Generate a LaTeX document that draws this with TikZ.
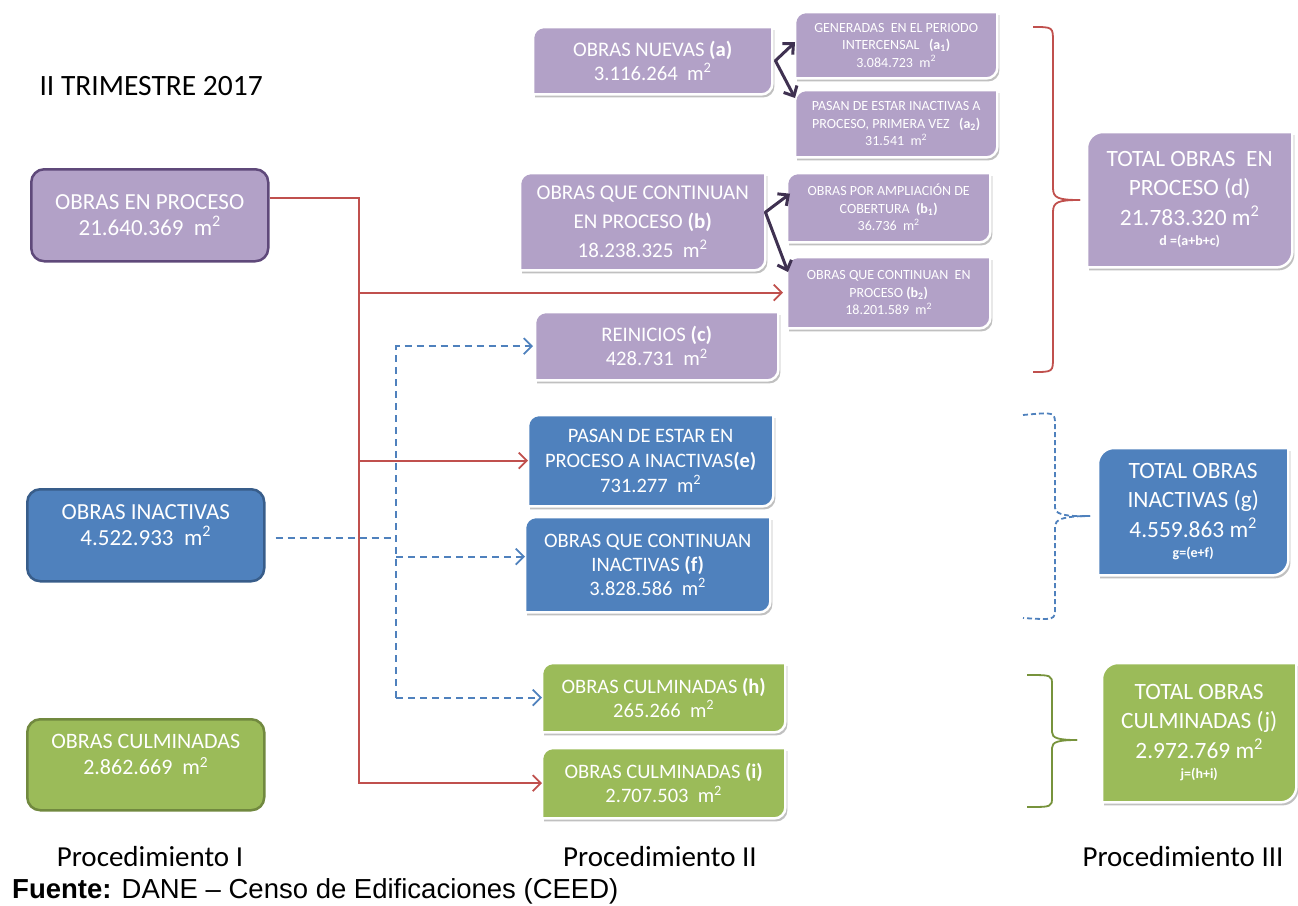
\documentclass[tikz,border=0pt]{standalone}
\usepackage{fontspec}
\setmainfont{Carlito}
\newfontfamily\arialf{Liberation Sans}
\usetikzlibrary{arrows.meta,calc}
\pgfdeclarelayer{bg}
\pgfsetlayers{bg,main}
\definecolor{purf}{HTML}{B2A1C7}
\definecolor{purd}{HTML}{5F497A}
\definecolor{pura}{HTML}{3F3151}
\definecolor{bluf}{HTML}{4F81BD}
\definecolor{blud}{HTML}{385D8A}
\definecolor{grnf}{HTML}{9BBB59}
\definecolor{grnd}{HTML}{71893F}
\definecolor{grnb}{HTML}{77933C}
\definecolor{redl}{HTML}{C0504D}
\newcommand\dpath[4]{([xshift=#3,yshift=#4]#1.south west) -- ([xshift=#3,yshift=#4-#2]#1.north west) arc[start angle=180,end angle=90,radius=#2] -- ([xshift=#3,yshift=#4]#1.north east) -- ([xshift=#3,yshift=#4+#2]#1.south east) arc[start angle=0,end angle=-90,radius=#2] -- cycle}
\newcommand\dbox[3]{\begin{pgfonlayer}{bg}\fill[black!55,opacity=.45] \dpath{#1}{#3}{2pt}{-3pt};\draw[white,line width=2.5pt,fill=#2] \dpath{#1}{#3}{0pt}{0pt};\end{pgfonlayer}}
\newcommand\msq{m\textsuperscript{2}}
\newcommand\fs[2]{\fontsize{#1}{#2}\selectfont}
\begin{document}
\begin{tikzpicture}[x=1pt,y=-1pt,
  lbox/.style={anchor=north west,rounded corners=13pt,line width=2.5pt,text=white,align=center,inner sep=0pt,font=\fs{23}{26}},
  pbox/.style={anchor=north west,text=white,align=center,inner sep=0pt,font=\fs{20.7}{24}},
  sbox/.style={anchor=north west,text=white,align=center,inner sep=0pt,font=\fs{14}{17.5}},
  tbox/.style={anchor=north west,text=white,align=center,inner sep=0pt,font=\fs{23.4}{29.5}},
  redc/.style={draw=redl,line width=1.8pt},
  bdash/.style={draw=bluf,line width=1.8pt,dash pattern=on 7pt off 5pt},
  harr/.style={-{Straight Barb[length=8pt,width=16pt]}},
  parr/.style={draw=pura,line width=3pt,line cap=round,-{Straight Barb[length=8pt,width=15pt]}},
  plabel/.style={font=\fs{29}{32}}]
\useasboundingbox (0,0) rectangle (1298,905);

% title
\node[anchor=west,font=\fs{29.5}{32}] (title) at (36,86) {II TRIMESTRE 2017};

% Procedimiento I
\node[lbox,fill=purf,draw=purd,minimum width=237pt,minimum height=92pt] (pro) at (30,168) {OBRAS EN PROCESO\\21.640.369~~\msq};
\node[lbox,fill=bluf,draw=blud,minimum width=237pt,minimum height=92pt] (ina) at (26,488) {OBRAS INACTIVAS\\4.522.933~~\msq\\[-6pt]};
\node[lbox,fill=grnf,draw=grnd,minimum width=237pt,minimum height=91pt,font=\fs{22}{26}] (cul) at (26,718) {OBRAS CULMINADAS\\2.862.669~~\msq\\[-6pt]};

% Procedimiento II
\node[pbox,minimum width=239pt,minimum height=67pt] (a) at (533,27) {OBRAS NUEVAS \textbf{(a)}\\3.116.264~~\msq};
\node[sbox,minimum width=202pt,minimum height=66pt] (a1) at (795,12) {GENERADAS~~EN EL PERIODO\\INTERCENSAL~~~\textbf{(a\textsubscript{1})}\\3.084.723~~\msq};
\node[sbox,minimum width=202pt,minimum height=67pt] (a2) at (795,90) {PASAN DE ESTAR INACTIVAS A\\PROCESO, PRIMERA VEZ~~~\textbf{(a\textsubscript{2})}\\31.541~~\msq};
\node[pbox,minimum width=245pt,minimum height=97pt,font=\fs{21}{29}] (b) at (520,173) {OBRAS QUE CONTINUAN\\EN PROCESO \textbf{(b)}\\18.238.325~~\msq};
\node[sbox,minimum width=203pt,minimum height=69pt] (b1) at (787,173) {OBRAS POR AMPLIACIÓN DE\\COBERTURA~~\textbf{(b\textsubscript{1})}\\36.736~~\msq};
\node[sbox,minimum width=203pt,minimum height=71pt] (b2) at (787,257) {OBRAS QUE CONTINUAN~~EN\\PROCESO \textbf{(b\textsubscript{2})}\\18.201.589~~\msq};
\node[pbox,minimum width=243pt,minimum height=68pt] (c) at (535,312) {REINICIOS \textbf{(c)}\\428.731~~\msq};
\node[pbox,minimum width=245pt,minimum height=91pt,font=\fs{20.5}{25}] (e) at (528,415) {PASAN DE ESTAR EN\\PROCESO A INACTIVAS\textbf{(e)}\\731.277~~\msq};
\node[pbox,minimum width=245pt,minimum height=95pt,font=\fs{20.5}{24}] (f) at (525,517) {OBRAS QUE CONTINUAN\\INACTIVAS \textbf{(f)}\\3.828.586~~\msq};
\node[pbox,minimum width=243pt,minimum height=69pt,font=\fs{20.5}{24}] (h) at (542,663) {OBRAS CULMINADAS \textbf{(h)}\\265.266~~\msq};
\node[pbox,minimum width=243pt,minimum height=70pt,font=\fs{20.5}{24}] (i) at (542,748) {OBRAS CULMINADAS \textbf{(i)}\\2.707.503~~\msq};

% Procedimiento III
\node[tbox,minimum width=205pt,minimum height=135pt] (d) at (1087,132) {TOTAL OBRAS~~EN\\PROCESO (d)\\21.783.320 \msq\\[-9pt]{\bfseries\fs{14}{16}d =(a+b+c)}};
\node[tbox,minimum width=190pt,minimum height=127pt] (g) at (1098,448) {TOTAL OBRAS\\INACTIVAS (g)\\4.559.863 \msq\\[-9pt]{\bfseries\fs{14}{16}g=(e+f)}};
\node[tbox,minimum width=194pt,minimum height=139pt] (j) at (1102,663) {TOTAL OBRAS\\CULMINADAS (j)\\2.972.769 \msq\\[-9pt]{\bfseries\fs{14}{16}j=(h+i)}};

\dbox{a}{purf}{11pt}
\dbox{a1}{purf}{11pt}
\dbox{a2}{purf}{11pt}
\dbox{b}{purf}{11pt}
\dbox{b1}{purf}{11pt}
\dbox{b2}{purf}{11pt}
\dbox{c}{purf}{11pt}
\dbox{e}{bluf}{11pt}
\dbox{f}{bluf}{11pt}
\dbox{h}{grnf}{11pt}
\dbox{i}{grnf}{11pt}
\dbox{d}{purf}{16pt}
\dbox{g}{bluf}{16pt}
\dbox{j}{grnf}{16pt}

% red connectors
\coordinate (rt) at (359,197);
\draw[redc,harr] ([yshift=17pt]pro.east) -| (rt |- i.west) -- (i.west);
\draw[redc,harr] (rt |- b2.west) -- ([xshift=-4pt]b2.west);
\draw[redc,harr] (rt |- e.west) -- (e.west);

% blue dashed connectors
\coordinate (bt) at (396,537);
\draw[bdash] ([xshift=10pt,yshift=-3pt]ina.east) -| (bt);
\draw[bdash,harr] (bt |- h.west) -- (bt |- c.west) -- ([xshift=-2pt]c.west);
\draw[bdash,harr] ([yshift=8pt]f.west -| bt) -- ([yshift=8pt]f.west);
\draw[bdash,harr] (bt |- h.west) -- (h.west);

% purple arrows
\draw[parr] ([xshift=3pt]a.east) -- ([yshift=3pt]a1.west);
\draw[parr] ([xshift=3pt]a.east) -- ([yshift=-8pt]a2.north west);
\draw[parr] ([yshift=9.5pt]b.east) -- ([xshift=3pt,yshift=14pt]b1.west);
\draw[parr] ([yshift=9.5pt]b.east) -- ([xshift=1pt,yshift=-15pt]b2.north west);

% braces
\draw[redc] (1033,27) .. controls (1053,27) .. (1053,42) -- (1053,188) .. controls (1053,198) and (1058,200) .. (1080,200);
\draw[redc] (1080,200) .. controls (1058,200) and (1053,202) .. (1053,212) -- (1053,357) .. controls (1053,372) .. (1033,372);
\draw[bdash,dash pattern=on 5pt off 3pt] (1023,415) .. controls (1055,412) .. (1055,425) -- (1055,508) .. controls (1055,513) and (1062,517) .. (1090,516);
\draw[bdash,dash pattern=on 5pt off 3pt] (1090,516) .. controls (1062,516) and (1055,520) .. (1055,526) -- (1055,608) .. controls (1055,620) .. (1023,618);
\draw[draw=grnb,line width=1.8pt] (1027,675) .. controls (1052,675) .. (1052,685) -- (1052,732) .. controls (1052,738) and (1058,740) .. (1077,740);
\draw[draw=grnb,line width=1.8pt] (1077,740) .. controls (1058,740) and (1052,742) .. (1052,748) -- (1052,797) .. controls (1052,807) .. (1027,807);

% bottom labels
\node[plabel] (p1) at (150,857) {Procedimiento I};
\node[plabel] (p2) at (660,857) {Procedimiento II};
\node[plabel] (p3) at (1183,857) {Procedimiento III};
\node[anchor=west,inner sep=0pt,font=\arialf\fs{27.5}{30}] (src) at (12,891) {\textbf{Fuente:} DANE – Censo de Edificaciones (CEED)};
\end{tikzpicture}
\end{document}
